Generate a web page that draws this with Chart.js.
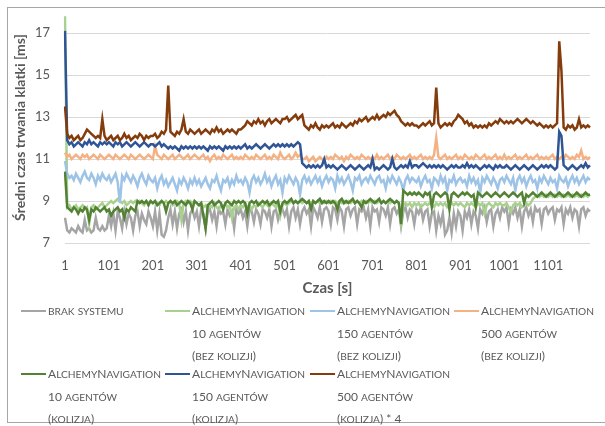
<!DOCTYPE html>
<html>
<head>
<meta charset="utf-8">
<script src="https://cdn.jsdelivr.net/npm/chart.js@4.4.1/dist/chart.umd.min.js"></script>
<style>
  html, body { margin: 0; padding: 0; background: #fff; }
  #frame { position: absolute; left: 7px; top: 7px; width: 610px; height: 416px; border: 1px solid #a6a6a6; box-sizing: border-box; }
  #wrap { position: absolute; left: 0; top: 0; width: 605px; height: 300px; }
  #legend { position: absolute; left: 0; top: 0; width: 605px; height: 426px; pointer-events: none;
            font-family: Lato, "Open Sans", sans-serif; font-size: 12px; color: #595959; }
  .item { position: absolute; }
  .swatch { position: absolute; left: 0; width: 25px; height: 2.5px; }
  .txt { margin-left: 27px; white-space: nowrap; }
  .sc { font-size: 85%; }
</style>
</head>
<body>
<div id="frame"></div>
<div id="wrap"><canvas id="chart"></canvas></div>
<div id="legend"></div>
<script>
// Sampling step of the measurement series (seconds); samples start at t = 1 s.
const STEP = 5;

// Value-axis tick labels [ms].
const yTicks = [7, 9, 11, 13, 15, 17];

// Series names (one array entry per legend line).
const names = [
  ["brak systemu"],
  ["AlchemyNavigation", "10 agentów", "(bez kolizji)"],
  ["AlchemyNavigation", "150 agentów", "(bez kolizji)"],
  ["AlchemyNavigation", "500 agentów", "(bez kolizji)"],
  ["AlchemyNavigation", "10 agentów", "(kolizja)"],
  ["AlchemyNavigation", "150 agentów", "(kolizja)"],
  ["AlchemyNavigation", "500 agentów", "(kolizja) * 4"]
];

// Average frame time [ms], one value every 5 s.
const brakSystemu = [
  8.2, 7.6, 7.5, 7.7, 7.6, 7.5, 7.8, 7.6, 7.5, 8.1, 7.6, 7.7, 7.5, 7.6, 8.2, 7.7, 7.6, 7.8, 7.6, 7.7,
  8.3, 7.8, 8.4, 7.6, 8.5, 8.2, 7.7, 8.5, 7.9, 8.4, 8.2, 7.6, 8.3, 8.5, 7.8, 8.4, 8.1, 7.9, 8.5, 8.2,
  7.8, 8.5, 7.6, 8.4, 7.4, 7.3, 7.6, 8.2, 8.6, 7.9, 8.5, 7.7, 8.4, 8.6, 8.0, 8.5, 7.6, 8.4, 8.6, 8.2,
  8.5, 7.8, 8.6, 8.4, 7.7, 8.5, 8.6, 8.1, 8.5, 7.8, 8.6, 8.4, 8.5, 7.9, 8.6, 8.3, 8.5, 7.7, 8.6, 8.4,
  8.6, 8.2, 8.5, 7.8, 8.6, 8.5, 8.0, 8.6, 8.4, 7.9, 8.6, 8.5, 8.2, 8.6, 7.8, 8.5, 8.6, 8.1, 8.5, 8.6,
  8.3, 8.6, 7.8, 8.5, 8.7, 8.2, 8.6, 7.9, 8.5, 8.7, 8.4, 8.6, 7.8, 8.7, 8.5, 8.2, 8.7, 8.0, 8.6, 8.7,
  8.5, 7.9, 8.7, 8.6, 8.1, 8.7, 8.5, 7.8, 8.6, 8.7, 8.3, 8.6, 8.7, 7.9, 8.6, 8.5, 8.7, 8.2, 8.6, 7.8,
  8.7, 8.5, 8.6, 8.0, 8.7, 8.6, 8.3, 8.7, 7.9, 8.6, 8.7, 8.4, 8.6, 7.8, 8.5, 8.7, 8.2, 8.6, 8.5, 7.9,
  8.6, 8.4, 8.7, 8.1, 8.5, 8.6, 7.8, 8.4, 8.5, 7.6, 8.3, 7.9, 8.4, 7.4, 7.6, 8.2, 7.5, 8.4, 7.8, 8.5,
  8.3, 7.6, 8.5, 8.2, 8.6, 7.9, 8.5, 8.3, 7.7, 8.6, 8.4, 8.7, 8.0, 8.5, 8.6, 7.8, 8.4, 8.6, 8.2, 8.7,
  8.5, 8.7, 7.9, 8.6, 8.4, 8.7, 8.2, 8.6, 7.8, 8.5, 8.7, 8.3, 8.6, 8.0, 8.7, 8.5, 8.6, 7.9, 8.6, 8.7,
  8.4, 8.6, 8.7, 8.1, 8.6, 8.5, 8.7, 7.9, 8.6, 8.4, 8.7, 8.2, 8.6, 8.5, 7.8, 8.6, 8.7, 8.3, 8.6, 8.5
];

const an10BezKolizji = [
  17.8, 8.7, 8.8, 8.6, 8.7, 8.8, 8.6, 8.7, 8.8, 8.6, 8.7, 7.9, 8.7, 8.8, 8.6, 8.7, 8.8, 8.9, 8.7, 8.8,
  8.9, 9.0, 8.9, 9.0, 9.1, 9.0, 8.9, 9.0, 8.8, 8.9, 9.0, 8.9, 9.0, 8.9, 9.0, 8.9, 8.8, 9.0, 8.9, 9.0,
  8.9, 9.0, 8.9, 8.8, 9.0, 8.9, 9.0, 8.9, 9.0, 8.8, 8.9, 9.0, 8.9, 8.1, 8.9, 9.0, 8.9, 9.0, 8.9, 9.0,
  8.9, 8.8, 8.9, 8.7, 8.8, 8.6, 8.8, 8.7, 8.9, 8.7, 8.6, 8.8, 8.7, 8.9, 8.7, 8.8, 8.2, 8.7, 8.8, 8.6,
  8.8, 8.7, 8.9, 8.7, 8.8, 8.6, 8.8, 8.7, 8.9, 8.8, 8.7, 8.9, 8.8, 8.7, 8.9, 8.8, 8.7, 8.9, 8.3, 8.8,
  8.9, 8.8, 8.9, 9.0, 8.9, 9.0, 8.9, 9.0, 8.9, 9.0, 8.9, 9.0, 8.9, 9.0, 8.9, 9.0, 8.9, 9.0, 8.9, 9.0,
  8.9, 9.0, 8.9, 9.0, 8.9, 9.0, 8.9, 9.0, 8.9, 9.0, 8.9, 9.0, 8.9, 9.0, 8.9, 9.0, 8.9, 9.0, 8.9, 9.0,
  8.9, 9.0, 8.9, 9.0, 8.9, 9.0, 8.9, 9.0, 8.9, 9.0, 8.9, 9.0, 8.9, 8.0, 8.8, 8.9, 8.8, 8.9, 8.7, 8.9,
  8.8, 8.9, 8.7, 8.8, 8.9, 8.8, 8.9, 8.8, 8.7, 8.9, 8.8, 8.9, 8.8, 8.9, 8.7, 8.8, 8.9, 8.8, 8.9, 8.8,
  8.9, 8.8, 8.7, 8.9, 8.8, 8.9, 8.8, 8.7, 8.9, 8.8, 8.9, 8.4, 8.8, 8.9, 8.8, 8.7, 8.9, 8.8, 8.9, 8.8,
  8.8, 8.9, 8.7, 8.5, 8.8, 8.9, 8.8, 8.9, 8.7, 8.8, 8.9, 8.8, 8.9, 9.1, 9.2, 9.3, 9.2, 9.3, 9.2, 9.3,
  9.2, 9.3, 9.2, 9.3, 9.2, 9.3, 9.2, 9.3, 9.2, 9.3, 9.2, 9.3, 9.2, 9.3, 9.2, 9.3, 9.2, 9.3, 9.2, 9.3
];

const an150BezKolizji = [
  10.9, 10.3, 10.1, 10.2, 10.0, 10.3, 10.1, 9.9, 10.2, 10.4, 10.1, 10.0, 10.3, 10.1, 9.8, 10.2, 10.0, 10.3, 10.1, 10.0,
  10.2, 9.9, 10.1, 10.3, 9.9, 8.9, 10.2, 10.0, 10.3, 10.1, 9.9, 10.2, 10.0, 9.7, 10.1, 10.3, 10.0, 9.8, 10.2, 10.0,
  9.9, 10.1, 9.6, 10.0, 10.2, 9.8, 10.0, 9.7, 9.9, 10.1, 9.8, 9.5, 10.0, 9.8, 10.1, 9.9, 9.6, 10.0, 9.8, 10.1,
  9.8, 10.0, 9.7, 9.9, 10.1, 9.8, 9.6, 10.0, 9.9, 10.2, 9.8, 9.5, 10.0, 9.9, 10.1, 9.7, 10.0, 9.8, 10.2, 9.9,
  10.0, 9.8, 10.1, 9.9, 9.4, 10.0, 10.2, 9.9, 10.1, 9.8, 10.0, 10.3, 9.9, 10.1, 9.7, 10.0, 10.2, 9.8, 10.0, 9.4,
  10.1, 9.9, 10.2, 10.0, 9.8, 10.1, 9.9, 9.3, 10.0, 10.2, 9.9, 10.1, 9.8, 10.0, 10.2, 9.9, 10.1, 9.7, 10.0, 10.2,
  9.9, 10.1, 10.0, 9.6, 10.2, 9.9, 10.1, 9.8, 10.0, 10.2, 9.9, 9.5, 10.1, 10.0, 10.2, 9.8, 10.0, 10.1, 9.9, 10.2,
  10.0, 9.8, 10.1, 10.2, 9.9, 10.0, 9.6, 10.1, 9.9, 10.2, 10.0, 9.8, 10.1, 9.9, 9.5, 10.0, 10.2, 9.9, 10.1, 10.0,
  9.9, 10.1, 9.7, 10.0, 10.2, 9.9, 10.0, 9.6, 10.1, 10.0, 9.8, 10.2, 9.9, 10.1, 9.5, 10.0, 9.9, 10.2, 9.8, 10.0,
  10.1, 9.9, 10.0, 9.7, 10.2, 9.9, 10.1, 9.8, 10.0, 9.4, 10.1, 9.9, 10.2, 10.0, 9.8, 10.1, 9.9, 9.6, 10.0, 10.1,
  9.9, 10.2, 10.0, 9.8, 10.1, 9.5, 10.0, 10.2, 9.9, 10.1, 9.7, 10.0, 10.2, 9.9, 10.0, 9.6, 10.1, 9.9, 10.2, 10.0,
  9.8, 10.1, 9.9, 10.0, 9.6, 10.2, 10.0, 9.9, 10.1, 9.7, 10.0, 10.2, 9.9, 10.1, 9.8, 10.0, 10.2, 9.9, 10.1, 10.0
];

const an500BezKolizji = [
  11.3, 11.1, 11.2, 11.0, 11.1, 11.2, 11.1, 11.0, 11.2, 11.1, 11.2, 11.0, 11.1, 11.2, 11.1, 11.0, 11.2, 11.1, 11.0, 11.1,
  11.2, 11.1, 11.0, 11.2, 11.1, 11.0, 11.1, 11.2, 11.1, 11.0, 11.2, 11.1, 11.0, 11.1, 11.2, 11.1, 11.0, 11.1, 11.2, 11.1,
  11.0, 11.6, 11.2, 11.1, 11.0, 11.2, 11.1, 11.0, 11.1, 11.2, 11.0, 11.1, 11.2, 11.1, 11.0, 11.1, 11.2, 11.0, 11.1, 11.2,
  11.1, 11.0, 11.1, 11.2, 11.0, 11.1, 10.9, 11.1, 11.2, 11.0, 11.1, 11.0, 11.2, 11.1, 11.0, 11.1, 11.2, 11.0, 11.1, 11.0,
  11.1, 11.0, 11.2, 11.1, 11.0, 11.1, 11.0, 11.2, 11.1, 11.0, 11.1, 11.2, 11.0, 11.1, 11.0, 11.2, 11.1, 11.0, 11.3, 11.1,
  11.0, 11.1, 11.2, 11.0, 11.1, 11.3, 11.1, 11.2, 11.0, 11.0, 11.1, 10.9, 11.0, 11.1, 10.9, 11.0, 11.1, 11.0, 10.9, 11.1,
  11.0, 11.1, 11.0, 11.2, 11.1, 11.0, 11.1, 10.9, 11.1, 11.0, 11.2, 11.1, 11.0, 11.1, 11.0, 11.2, 11.1, 11.0, 11.1, 11.0,
  11.1, 11.0, 11.2, 11.0, 11.1, 11.0, 11.1, 11.2, 11.0, 11.1, 11.0, 11.2, 11.1, 11.0, 11.1, 11.0, 11.1, 11.2, 11.0, 11.1,
  11.0, 11.1, 11.2, 11.0, 11.1, 11.0, 11.1, 11.0, 11.2, 12.0, 11.1, 11.0, 11.1, 11.2, 11.0, 11.1, 11.0, 11.1, 11.2, 11.0,
  11.1, 11.0, 11.2, 11.1, 11.0, 11.1, 11.0, 11.2, 11.1, 11.0, 11.1, 11.2, 11.0, 11.1, 11.0, 11.1, 11.2, 11.0, 11.1, 11.0,
  11.2, 11.0, 11.1, 11.0, 11.1, 11.2, 11.0, 11.1, 11.0, 11.1, 11.2, 11.0, 11.1, 11.0, 11.1, 11.2, 11.0, 11.1, 11.0, 11.1,
  11.0, 11.1, 11.2, 11.0, 11.1, 11.0, 11.1, 11.0, 11.2, 11.1, 11.0, 11.1, 11.0, 11.2, 11.1, 11.4, 11.0, 11.1, 11.0, 11.1
];

const an10Kolizja = [
  10.4, 8.7, 8.6, 8.5, 8.7, 8.6, 8.4, 8.6, 8.5, 8.7, 8.6, 8.1, 8.6, 8.5, 8.7, 8.6, 8.5, 8.6, 8.7, 8.5,
  8.6, 8.3, 8.5, 8.6, 8.7, 8.5, 8.6, 8.2, 8.6, 8.5, 8.7, 8.6, 8.5, 9.0, 8.9, 9.0, 8.9, 9.0, 8.8, 9.0,
  8.9, 9.0, 8.8, 8.9, 9.0, 8.9, 8.5, 8.9, 9.0, 8.9, 9.0, 8.8, 8.9, 9.0, 8.9, 8.8, 9.0, 8.9, 8.6, 9.0,
  8.9, 8.8, 8.9, 8.3, 7.7, 8.8, 8.9, 9.0, 8.8, 8.9, 9.0, 8.9, 8.6, 8.9, 9.0, 8.9, 8.8, 9.0, 8.9, 9.0,
  8.9, 9.0, 8.9, 8.4, 8.9, 9.0, 8.9, 9.0, 8.8, 8.9, 9.0, 8.9, 9.0, 8.8, 8.9, 9.0, 8.9, 9.0, 8.5, 8.9,
  9.0, 8.9, 9.0, 9.1, 8.9, 9.0, 8.9, 9.0, 9.1, 9.0, 8.9, 9.0, 8.6, 9.0, 8.9, 9.0, 9.1, 8.9, 9.0, 8.9,
  9.0, 8.9, 9.0, 8.9, 8.6, 9.0, 9.1, 8.9, 9.0, 8.9, 9.0, 9.1, 8.9, 9.0, 8.9, 8.7, 9.0, 8.9, 9.0, 9.1,
  9.0, 8.9, 9.0, 9.1, 8.9, 9.0, 8.9, 9.0, 9.1, 9.0, 8.9, 9.0, 8.9, 7.9, 9.5, 9.4, 9.3, 9.4, 9.3, 9.4,
  9.3, 9.4, 9.3, 9.2, 9.4, 9.3, 9.4, 8.7, 9.3, 9.4, 9.3, 9.2, 9.3, 9.4, 9.3, 8.6, 9.3, 9.4, 9.3, 9.2,
  9.3, 9.4, 9.3, 9.4, 9.3, 9.2, 9.3, 8.7, 9.4, 9.3, 9.2, 9.3, 9.4, 9.3, 9.2, 9.3, 9.4, 9.3, 9.2, 9.3,
  9.4, 9.3, 9.2, 9.3, 9.4, 9.3, 9.2, 9.3, 9.4, 8.9, 9.3, 9.2, 9.3, 9.4, 9.3, 9.2, 9.3, 9.4, 9.3, 9.2,
  9.3, 9.4, 9.3, 9.2, 9.3, 9.4, 9.3, 9.2, 9.3, 9.4, 9.3, 9.2, 9.3, 9.4, 9.3, 9.2, 9.3, 9.4, 9.3, 9.3
];

const an150Kolizja = [
  17.1, 11.9, 11.7, 11.8, 11.6, 11.7, 11.8, 11.7, 11.6, 11.8, 11.7, 11.9, 11.7, 11.8, 11.7, 11.6, 11.8, 11.7, 11.8, 11.7,
  11.8, 11.7, 11.6, 11.8, 11.7, 11.8, 11.6, 11.7, 11.8, 11.7, 11.6, 11.7, 11.8, 11.7, 11.6, 11.7, 11.8, 11.7, 11.6, 11.7,
  11.7, 11.6, 11.7, 11.8, 11.6, 11.7, 11.6, 11.5, 11.6, 11.5, 11.6, 11.5, 11.4, 11.6, 11.5, 11.6, 11.5, 11.6, 11.5, 11.6,
  11.5, 11.6, 11.5, 11.6, 11.5, 11.4, 11.6, 11.5, 11.6, 11.5, 11.6, 11.5, 11.4, 11.6, 11.5, 11.6, 11.5, 11.6, 11.5, 11.6,
  11.5, 11.6, 11.7, 11.5, 11.6, 11.5, 11.6, 11.7, 11.6, 11.5, 11.6, 11.7, 11.6, 11.5, 11.6, 11.7, 11.6, 11.7, 11.6, 11.7,
  11.6, 11.7, 11.6, 11.7, 11.6, 11.7, 11.8, 11.7, 10.8, 10.7, 10.6, 10.7, 10.6, 10.7, 10.6, 10.7, 10.6, 10.7, 11.0, 10.6,
  10.7, 10.6, 10.7, 10.6, 10.5, 10.6, 10.7, 10.6, 10.5, 10.6, 10.7, 10.6, 10.5, 10.6, 10.7, 10.6, 10.5, 10.6, 10.7, 10.6,
  11.0, 10.5, 10.6, 10.5, 10.6, 10.7, 10.6, 10.5, 10.6, 11.0, 10.6, 10.5, 10.6, 10.7, 10.6, 10.7, 10.6, 10.9, 10.6, 10.7,
  10.7, 10.6, 10.7, 10.8, 10.7, 10.6, 10.7, 10.6, 10.7, 10.6, 10.7, 10.6, 10.7, 10.6, 10.5, 10.6, 10.7, 10.6, 10.7, 10.6,
  10.6, 10.7, 10.6, 10.8, 10.6, 10.7, 10.6, 10.7, 10.6, 10.5, 10.6, 10.7, 10.6, 10.7, 10.6, 10.5, 10.7, 10.6, 10.7, 10.6,
  10.6, 10.7, 10.6, 10.5, 10.6, 10.7, 10.6, 10.5, 10.6, 10.7, 10.6, 10.5, 10.6, 10.7, 10.6, 10.5, 10.6, 10.7, 10.6, 10.7,
  10.6, 10.7, 10.6, 10.5, 10.6, 12.3, 12.1, 10.7, 10.6, 10.5, 10.6, 10.7, 10.6, 10.5, 10.6, 10.7, 10.6, 10.8, 10.6, 10.7
];

// Values of this series are multiplied by 4 (see its legend entry).
const an500KolizjaX4 = [
  13.5, 12.2, 12.0, 12.1, 11.9, 12.0, 12.1, 11.9, 12.0, 12.2, 12.4, 12.3, 12.2, 12.1, 12.0, 12.1, 12.0, 12.9, 12.1, 11.9,
  12.0, 12.1, 11.9, 12.0, 12.1, 11.9, 12.0, 12.2, 12.0, 12.1, 11.9, 12.0, 12.1, 12.0, 12.2, 12.1, 11.9, 12.1, 12.0, 12.1,
  12.1, 12.2, 12.0, 12.1, 12.3, 12.2, 12.4, 14.5, 12.3, 12.2, 12.1, 12.3, 12.2, 12.4, 12.9, 12.3, 12.2, 12.4, 12.3, 12.2,
  12.3, 12.4, 12.2, 12.3, 12.4, 12.3, 12.2, 12.4, 12.3, 12.5, 12.3, 12.4, 12.2, 12.3, 12.4, 12.3, 12.4, 12.3, 12.2, 12.4,
  12.4, 12.5, 12.6, 12.8, 12.7, 12.6, 12.8, 12.7, 12.9, 12.7, 12.8, 12.6, 12.8, 12.9, 12.7, 12.8, 12.9, 12.8, 12.7, 12.9,
  12.9, 13.0, 12.8, 12.9, 13.0, 13.1, 12.9, 13.0, 13.1, 12.6, 12.5, 12.4, 12.6, 12.5, 12.7, 12.5, 12.4, 12.6, 12.5, 12.6,
  12.5, 12.6, 12.7, 12.5, 12.6, 12.5, 12.7, 12.6, 12.5, 12.6, 12.7, 12.6, 12.8, 12.7, 12.9, 12.8, 12.9, 13.0, 12.8, 12.9,
  13.0, 12.9, 13.1, 12.9, 13.0, 13.1, 13.0, 13.2, 13.1, 13.2, 13.3, 13.1, 13.0, 12.8, 12.7, 12.6, 12.7, 12.6, 12.7, 12.6,
  12.6, 12.5, 12.6, 12.7, 12.6, 12.7, 12.8, 12.6, 12.7, 14.4, 12.7, 12.5, 12.6, 12.7, 12.6, 12.7, 12.6, 12.8, 12.9, 13.1,
  13.0, 12.9, 12.7, 12.8, 12.6, 12.7, 12.5, 12.6, 12.5, 12.6, 12.5, 12.6, 12.5, 12.7, 12.6, 12.7, 12.8, 12.7, 12.9, 12.8,
  12.7, 12.8, 12.7, 12.8, 12.7, 12.8, 12.9, 12.8, 12.7, 12.8, 12.9, 12.8, 12.7, 12.8, 12.7, 12.6, 12.7, 12.6, 12.5, 12.6,
  12.5, 12.6, 12.5, 12.6, 12.7, 16.6, 15.2, 12.5, 12.4, 12.6, 12.5, 12.6, 12.4, 12.5, 12.9, 12.5, 12.6, 12.5, 12.6, 12.5
];

const seriesValues = [brakSystemu, an10BezKolizji, an150BezKolizji, an500BezKolizji,
                      an10Kolizja, an150Kolizja, an500KolizjaX4];
const colors = ["#A5A5A5", "#A9D18E", "#9DC3E6", "#F4B183", "#548235", "#2F5597", "#843C0C"];

// Time axis in seconds, labelled every 100 s (1, 101, 201, ...).
const seconds = brakSystemu.map((_, i) => 1 + i * STEP);
const LABEL_EVERY = 100 / STEP;

const FONT = "Lato, 'Open Sans', sans-serif";
const TEXT = "#595959";

const datasets = seriesValues.map((vals, i) => ({
  label: names[i].join(" "),
  data: vals,
  borderColor: colors[i],
  backgroundColor: colors[i],
  borderWidth: 2.5,
  pointRadius: 0,
  tension: 0,
  fill: false,
  order: seriesValues.length - i
}));

new Chart(document.getElementById("chart"), {
  type: "line",
  data: { labels: seconds, datasets },
  options: {
    responsive: true,
    maintainAspectRatio: false,
    animation: false,
    layout: { padding: { top: 12, right: 15, left: 0, bottom: 0 } },
    plugins: { legend: { display: false }, tooltip: { enabled: false } },
    scales: {
      x: {
        type: "category",
        offset: false,
        grid: { display: false },
        border: { display: false },
        ticks: {
          autoSkip: false, maxRotation: 0, minRotation: 0, padding: 7,
          color: TEXT, font: { family: FONT, size: 13 },
          callback: (v, i) => (i % LABEL_EVERY === 0 ? String(seconds[i]) : null)
        },
        title: { display: true, text: "Czas [s]", color: TEXT,
                 font: { family: FONT, size: 15, weight: "bold" }, padding: { top: 0, bottom: 3 } },
        afterFit: (s) => { s.height = 57; s.paddingLeft = 0; s.paddingRight = 0; }
      },
      y: {
        min: 7, max: 18,
        grid: { color: "#D9D9D9", lineWidth: 1, drawTicks: false },
        border: { display: false },
        ticks: { padding: 15, color: TEXT, font: { family: FONT, size: 13 } },
        afterBuildTicks: (s) => { s.ticks = yTicks.map(v => ({ value: v })); },
        title: { display: true, text: "Średni czas trwania klatki [ms]", color: TEXT,
                 font: { family: FONT, size: 14, weight: "bold" }, padding: { top: 12, bottom: 0 } },
        afterFit: (s) => { s.width = 65; s.paddingTop = 0; s.paddingBottom = 0; }
      }
    }
  }
});

// Small capitals: lowercase runs become reduced-size uppercase.
function smallCaps(line) {
  return line.replace(/&/g, "&amp;").replace(/</g, "&lt;")
    .replace(/[a-ząćęłńóśźż]+/g, m => '<span class="sc">' + m.toUpperCase() + '</span>');
}

// Legend: two rows of up to four entries, multi-line labels.
const legend = document.getElementById("legend");
const colX = [21, 165, 310, 454];
const rowY = [311, 374];
const LH = 21.3;
names.forEach((lines, i) => {
  const item = document.createElement("div");
  item.className = "item";
  item.style.left = colX[i % 4] + "px";
  item.style.top = (rowY[Math.floor(i / 4)] - LH / 2) + "px";
  item.style.lineHeight = LH + "px";
  const sw = document.createElement("div");
  sw.className = "swatch";
  sw.style.background = colors[i];
  sw.style.top = (LH / 2 - 1.25) + "px";
  const txt = document.createElement("div");
  txt.className = "txt";
  txt.innerHTML = lines.map(smallCaps).join("<br>");
  item.appendChild(sw);
  item.appendChild(txt);
  legend.appendChild(item);
});
</script>
</body>
</html>
